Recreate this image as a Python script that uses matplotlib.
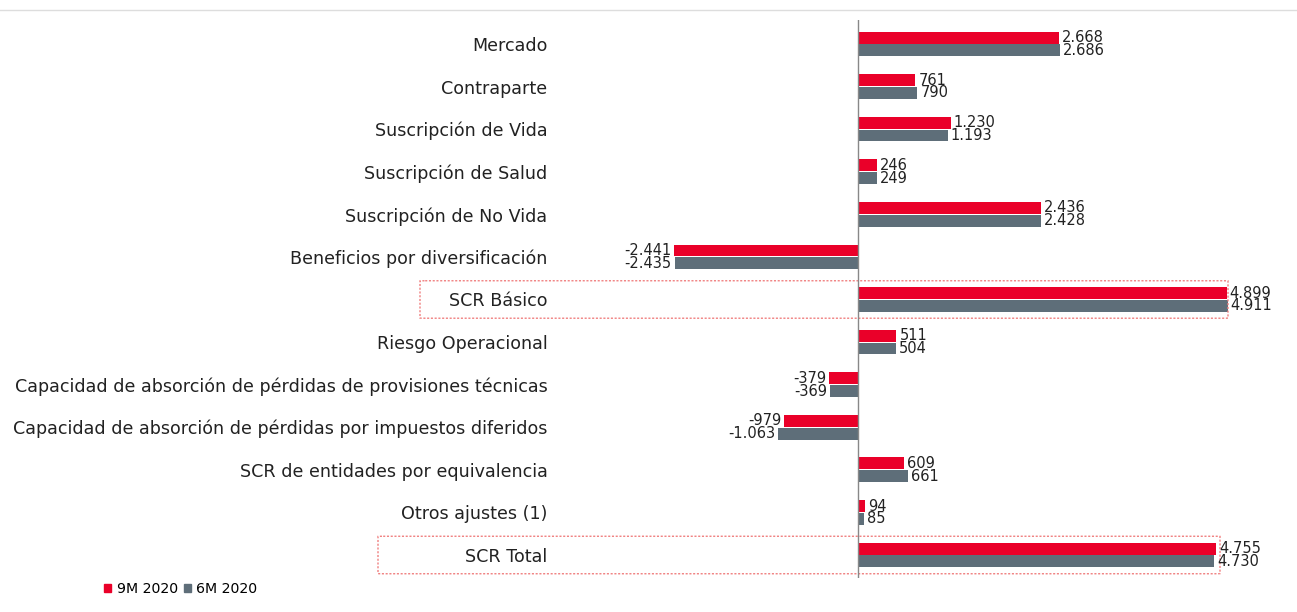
import matplotlib.pyplot as plt
from matplotlib.patches import FancyBboxPatch, Patch
from matplotlib.transforms import blended_transform_factory

plt.rcParams['font.family'] = ['DejaVu Sans']

categorias = ['Mercado', 'Contraparte', 'Suscripción de Vida', 'Suscripción de Salud',
              'Suscripción de No Vida', 'Beneficios por diversificación', 'SCR Básico',
              'Riesgo Operacional',
              'Capacidad de absorción de pérdidas de provisiones técnicas',
              'Capacidad de absorción de pérdidas por impuestos diferidos',
              'SCR de entidades por equivalencia', 'Otros ajustes (1)', 'SCR Total']
valores_9m = [2668, 761, 1230, 246, 2436, -2441, 4899, 511, -379, -979, 609, 94, 4755]
valores_6m = [2686, 790, 1193, 249, 2428, -2435, 4911, 504, -369, -1063, 661, 85, 4730]
series = ['9M 2020', '6M 2020']

ROJO = '#EA0029'
GRIS = '#5E6E79'


def fmt(v):
    return f'{v:,}'.replace(',', '.')


fig = plt.figure(figsize=(12.97, 6.12), dpi=100)
ax = fig.add_axes([560 / 1297, 34 / 612, 730 / 1297, 558 / 612])

y = list(range(len(categorias)))
h = 0.28
off = 0.15
ax.barh([i - off for i in y], valores_9m, height=h, color=ROJO)
ax.barh([i + off for i in y], valores_6m, height=h, color=GRIS)

for i in y:
    for v, dy in ((valores_9m[i], -off), (valores_6m[i], off)):
        if v >= 0:
            ax.text(v + 40, i + dy, fmt(v), ha='left', va='center', fontsize=10.5, color='#222222')
        else:
            ax.text(v - 40, i + dy, fmt(v), ha='right', va='center', fontsize=10.5, color='#222222')

ax.set_xlim(-3960, 5740)
ax.set_ylim(12.54, -0.563)
ax.axvline(0, color='#888888', lw=1)
ax.set_yticks(y)
ax.set_yticklabels(categorias, fontsize=12.6, color='#222222')
ax.tick_params(axis='y', length=0, pad=9)
ax.set_xticks([])
for s in ax.spines.values():
    s.set_visible(False)

# cajas punteadas alrededor de los totales
trans = blended_transform_factory(fig.transFigure, ax.transData)
for idx, x0, x1 in ((6, 420, 1228), (12, 378, 1220)):
    caja = FancyBboxPatch((x0 / 1297, idx - 0.44), (x1 - x0) / 1297, 0.88,
                          boxstyle='round,pad=0,rounding_size=0.004',
                          transform=trans, fill=False, ec='#F08080', ls=(0, (1.5, 1.2)),
                          lw=1, clip_on=False)
    ax.add_patch(caja)

# línea superior
fig.add_artist(plt.Line2D([0, 1], [1 - 10 / 612, 1 - 10 / 612], color='#DDDDDD', lw=1))

handles = [Patch(color=ROJO), Patch(color=GRIS)]
fig.legend(handles, series, loc='center left', bbox_to_anchor=(104 / 1297, 1 - 589 / 612),
           ncol=2, frameon=False, fontsize=10.2, handlelength=0.5, handleheight=0.5,
           handletextpad=0.4, columnspacing=0.4, borderaxespad=0, borderpad=0)

fig.savefig('out.png', dpi=100)
